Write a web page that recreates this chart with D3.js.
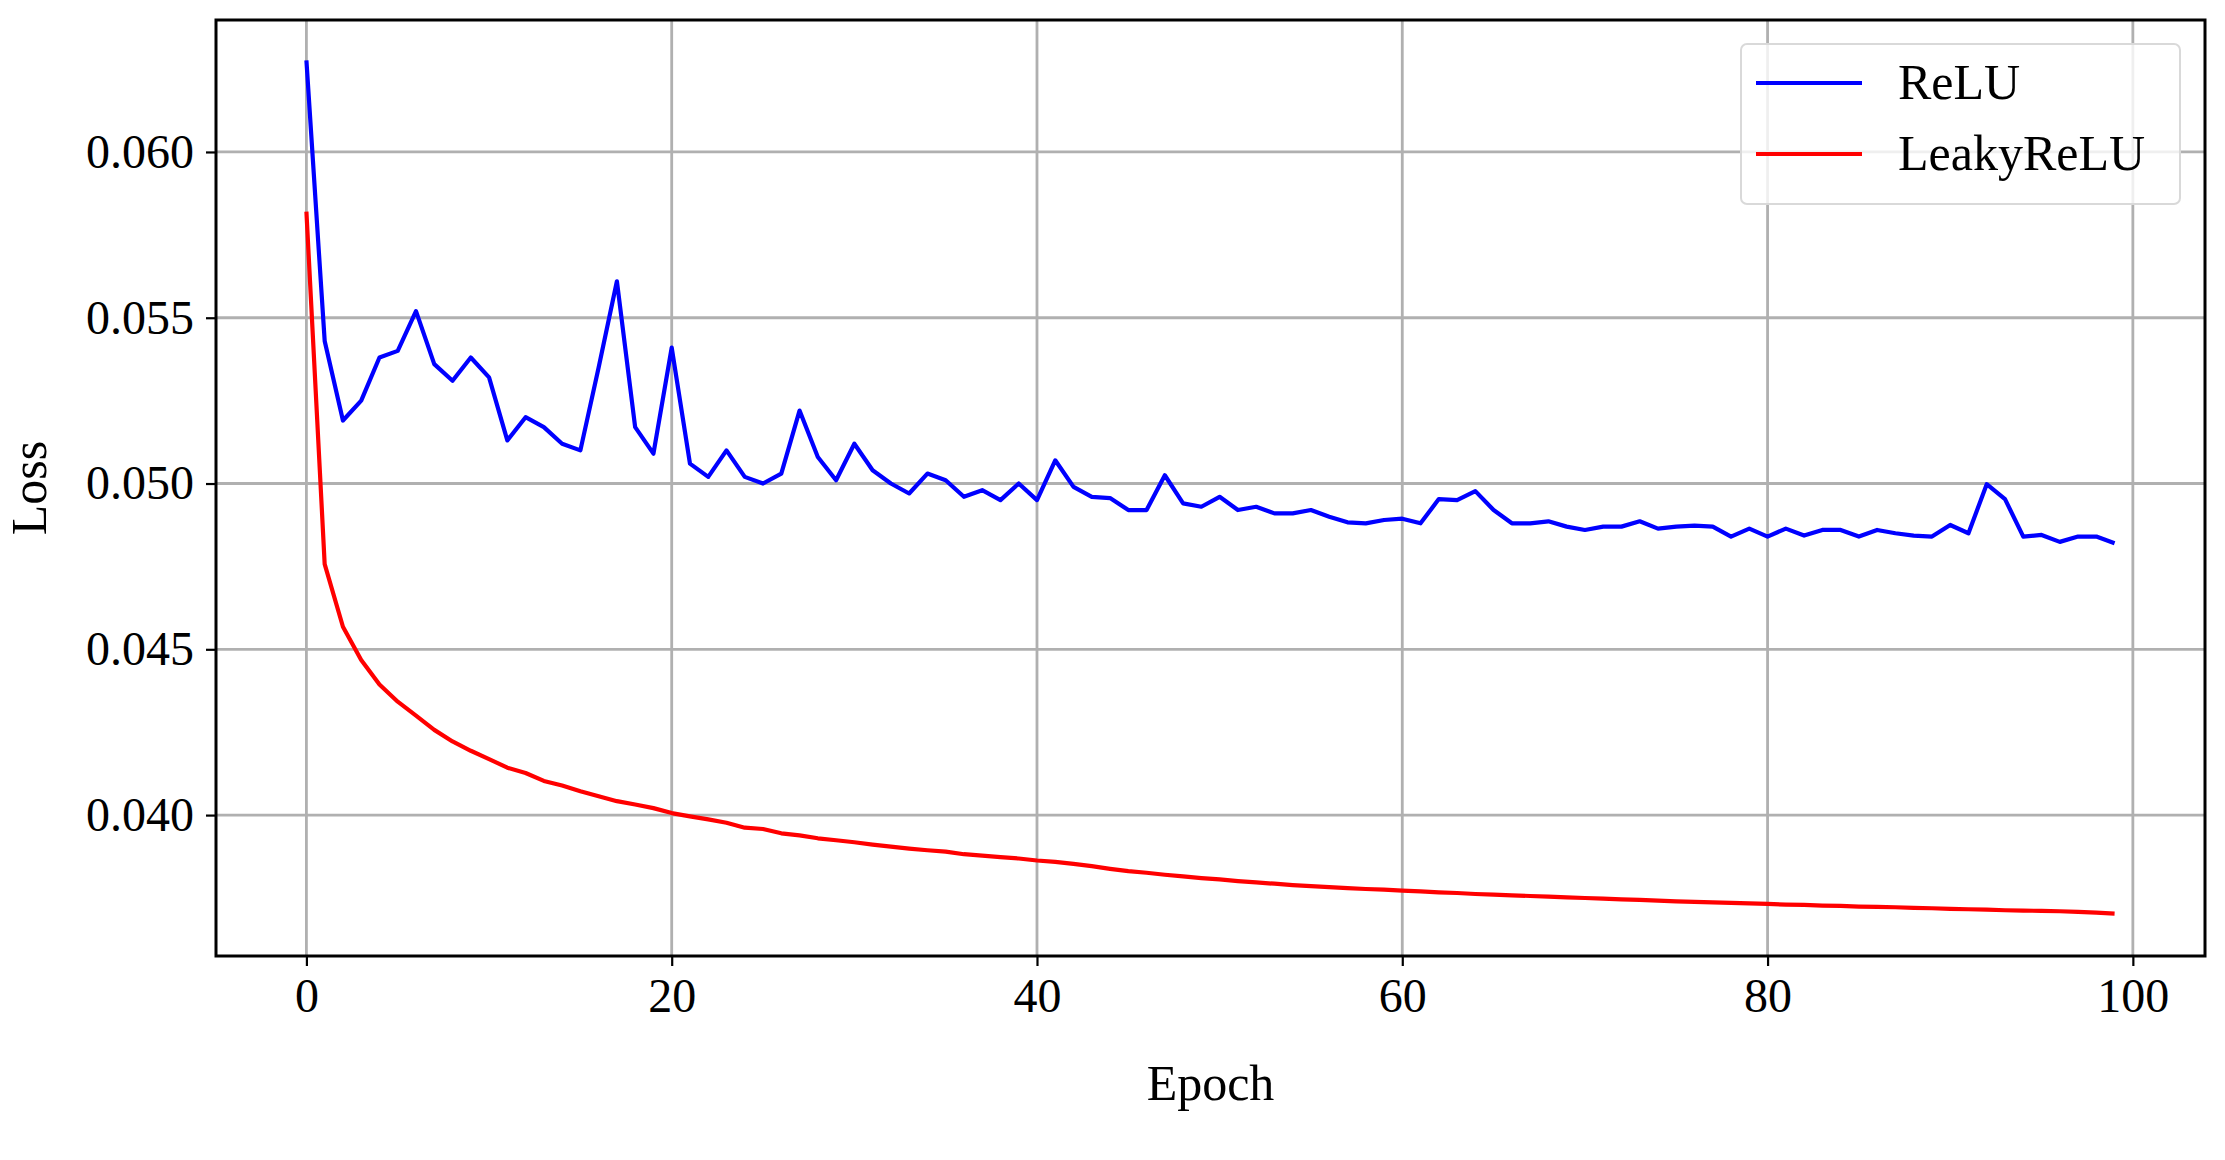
<!DOCTYPE html>
<html>
<head>
<meta charset="utf-8">
<script src="https://cdn.jsdelivr.net/npm/d3@7"></script>
<style>
  body { margin: 0; background: #fff; }
  text { font-family: "Liberation Serif", "DejaVu Serif", serif; }
</style>
</head>
<body>
<svg id="chart" width="2225" height="1160"></svg>
<script>
var epochs = d3.range(0, 100);
var reluLoss = [0.06276,0.0543,0.0519,0.0525,0.0538,0.0540,0.0552,0.0536,0.0531,0.0538,
  0.0532,0.0513,0.0520,0.0517,0.0512,0.0510,0.0535,0.0561,0.0517,0.0509,
  0.0541,0.0506,0.0502,0.0510,0.0502,0.0500,0.0503,0.0522,0.0508,0.0501,
  0.0512,0.0504,0.0500,0.0497,0.0503,0.0501,0.0496,0.0498,0.0495,0.0500,
  0.0495,0.0507,0.0499,0.0496,0.04956,0.0492,0.0492,0.05025,0.0494,0.0493,
  0.0496,0.0492,0.0493,0.0491,0.0491,0.0492,0.0490,0.04883,0.0488,0.0489,
  0.04894,0.0488,0.04953,0.0495,0.04977,0.0492,0.0488,0.0488,0.04886,0.0487,
  0.0486,0.0487,0.0487,0.04886,0.04864,0.0487,0.04873,0.0487,0.0484,0.04864,
  0.0484,0.04864,0.04843,0.0486,0.0486,0.0484,0.0486,0.0485,0.04843,0.0484,
  0.04875,0.0485,0.04998,0.04953,0.0484,0.04845,0.04824,0.0484,0.0484,0.0482];
var leakyLoss = [0.0582,0.04757,0.04568,0.04468,0.04394,0.04342,0.0430,0.04257,0.04222,0.04194,
  0.04169,0.04143,0.04127,0.04103,0.04089,0.04072,0.04057,0.04042,0.04032,0.04021,
  0.04006,0.03996,0.03987,0.03977,0.03962,0.03958,0.03945,0.03939,0.0393,0.03924,
  0.03918,0.03911,0.03905,0.03899,0.03894,0.0389,0.03882,0.03878,0.03873,0.03869,
  0.03863,0.03859,0.03853,0.03846,0.03838,0.03831,0.03826,0.0382,0.03815,0.0381,
  0.03806,0.03801,0.03797,0.03793,0.03789,0.03786,0.03783,0.0378,0.03777,0.03775,
  0.03772,0.0377,0.03767,0.03765,0.03762,0.0376,0.03758,0.03756,0.03754,0.03752,
  0.0375,0.03748,0.03746,0.03744,0.03742,0.0374,0.03738,0.03737,0.03735,0.03734,
  0.03732,0.0373,0.03729,0.03727,0.03726,0.03724,0.03723,0.03722,0.0372,0.03719,
  0.03717,0.03716,0.03715,0.03713,0.03712,0.03711,0.0371,0.03708,0.03706,0.03703];
var xTicks = [0, 20, 40, 60, 80, 100];
var yTicks = [0.040, 0.045, 0.050, 0.055, 0.060];
var seriesNames = ["ReLU", "LeakyReLU"];
var seriesColors = ["#0000ff", "#ff0000"];

function drawChart() {
    var svg = d3.select("#chart");
    var pLeft = 216, pRight = 2205, pTop = 20, pBottom = 956;

    var x = d3.scaleLinear().domain([-4.95, 103.95]).range([pLeft, pRight]);
    var y = d3.scaleLinear().domain([0.03575, 0.06398]).range([pBottom, pTop]);

    // grid
    var grid = svg.append("g").attr("stroke", "#b0b0b0").attr("stroke-width", 2.8);
    xTicks.forEach(function(t) {
        grid.append("line").attr("x1", x(t)).attr("x2", x(t)).attr("y1", pTop).attr("y2", pBottom);
    });
    yTicks.forEach(function(t) {
        grid.append("line").attr("x1", pLeft).attr("x2", pRight).attr("y1", y(t)).attr("y2", y(t));
    });

    // lines
    var line = d3.line().x(function(d, i) { return x(epochs[i]); }).y(function(d) { return y(d); });
    [reluLoss, leakyLoss].forEach(function(s, i) {
        svg.append("path").datum(s).attr("d", line)
            .attr("fill", "none").attr("stroke", seriesColors[i])
            .attr("stroke-width", 4.2).attr("stroke-linejoin", "round");
    });

    // axes
    var xAxis = svg.append("g").attr("transform", "translate(0," + pBottom + ")")
        .call(d3.axisBottom(x).tickValues(xTicks).tickSize(10).tickPadding(12).tickFormat(d3.format("d")));
    var yAxis = svg.append("g").attr("transform", "translate(" + pLeft + ",0)")
        .call(d3.axisLeft(y).tickValues(yTicks).tickSize(10).tickPadding(12).tickFormat(d3.format(".3f")));
    [xAxis, yAxis].forEach(function(a) {
        a.attr("font-size", 48).attr("font-family", '"Liberation Serif", serif');
        a.select(".domain").remove();
        a.selectAll("line").attr("stroke", "#000").attr("stroke-width", 2.2);
        a.selectAll("text").attr("fill", "#000");
    });

    svg.append("rect").attr("x", pLeft).attr("y", pTop).attr("width", pRight - pLeft).attr("height", pBottom - pTop)
        .attr("fill", "none").attr("stroke", "#000").attr("stroke-width", 3);

    svg.append("text").attr("x", (pLeft + pRight) / 2).attr("y", 1100).attr("text-anchor", "middle")
        .attr("font-size", 50).text("Epoch");
    svg.append("text").attr("transform", "translate(46," + (pTop + pBottom) / 2 + ") rotate(-90)")
        .attr("text-anchor", "middle").attr("font-size", 50).text("Loss");

    // legend
    var lg = svg.append("g");
    lg.append("rect").attr("x", 1741).attr("y", 44).attr("width", 439).attr("height", 160).attr("rx", 6)
        .attr("fill", "#fff").attr("fill-opacity", 0.8).attr("stroke", "#d9d9d9").attr("stroke-width", 2);
    seriesNames.forEach(function(n, i) {
        var yy = 83 + i * 71;
        lg.append("line").attr("x1", 1756).attr("x2", 1862).attr("y1", yy).attr("y2", yy)
            .attr("stroke", seriesColors[i]).attr("stroke-width", 4.2);
        lg.append("text").attr("x", 1898).attr("y", yy + 16).attr("font-size", 50).text(n);
    });
}

drawChart();
</script>
</body>
</html>
